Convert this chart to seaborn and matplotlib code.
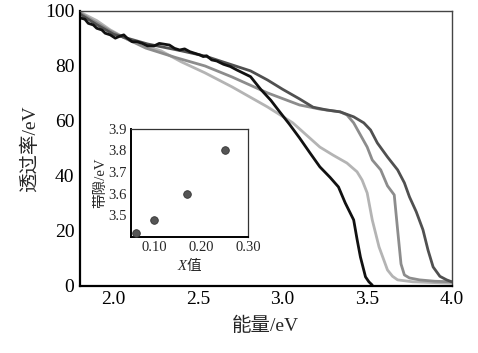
import matplotlib
matplotlib.use("Agg")
import matplotlib.pyplot as plt
import matplotlib.ticker as tkr
import pandas as pd
import seaborn as sns

sns.set_style("white")
plt.rcParams['font.family'] = ['Liberation Serif', 'Noto Sans CJK SC', 'DejaVu Sans']
plt.rcParams['mathtext.fontset'] = 'custom'
plt.rcParams['mathtext.it'] = 'Liberation Serif:italic'
plt.rcParams['mathtext.rm'] = 'Noto Sans CJK SC'

# transmission curves (energy in eV, transmittance)
black_x = [1.80, 1.83, 1.85, 1.88, 1.90, 1.93, 1.95, 1.98, 2.01, 2.04, 2.06, 2.08,
           2.11, 2.14, 2.17, 2.20, 2.24, 2.27, 2.33, 2.36, 2.39, 2.42, 2.45, 2.48,
           2.51, 2.53, 2.55, 2.58, 2.61, 2.65, 2.69, 2.73, 2.77, 2.81, 2.87, 2.93,
           2.98, 3.04, 3.10, 3.16, 3.22, 3.28, 3.33, 3.37, 3.42, 3.44, 3.46, 3.49,
           3.51, 3.53]
black_y = [97.5, 97.0, 95.5, 94.9, 93.7, 93.1, 91.9, 91.3, 90.1, 90.9, 91.3, 90.1,
           88.8, 88.8, 88.2, 87.3, 87.3, 88.2, 87.6, 86.4, 85.8, 86.2, 85.2, 84.6,
           84.0, 83.4, 83.7, 82.2, 81.8, 80.6, 79.8, 78.5, 77.3, 76.1, 71.5, 67.5,
           63.5, 58.8, 53.8, 48.5, 43.3, 39.5, 36.0, 30.2, 24.0, 17.0, 10.5, 3.3,
           1.5, 0.3]

dark_x = [1.80, 1.90, 2.00, 2.20, 2.40, 2.54, 2.67, 2.81, 2.91, 3.00, 3.10, 3.18,
          3.26, 3.34, 3.42, 3.48, 3.52, 3.56, 3.62, 3.68, 3.72, 3.75, 3.79, 3.83,
          3.86, 3.89, 3.93, 3.97, 4.00]
dark_y = [98.9, 95.0, 91.5, 88.0, 85.5, 83.6, 81.0, 78.2, 74.9, 71.5, 68.0, 65.0,
          64.0, 63.3, 61.5, 59.3, 56.7, 52.0, 46.9, 42.2, 37.5, 32.4, 27.0, 20.4,
          13.0, 6.9, 3.5, 2.2, 1.5]

mid_x = [1.80, 1.98, 2.19, 2.37, 2.54, 2.70, 2.91, 3.10, 3.22, 3.34, 3.38, 3.42,
         3.46, 3.50, 3.53, 3.58, 3.62, 3.66, 3.68, 3.70, 3.72, 3.75, 3.81, 3.90,
         4.00]
mid_y = [99.3, 92.7, 86.5, 83.0, 80.0, 76.0, 70.2, 65.8, 64.3, 63.3, 62.2, 59.3,
         54.9, 50.5, 45.8, 42.2, 36.4, 33.1, 20.4, 8.0, 4.0, 2.9, 2.2, 1.7, 1.5]

light_x = [1.80, 1.90, 1.98, 2.10, 2.28, 2.40, 2.54, 2.70, 2.91, 3.06, 3.22, 3.30,
           3.38, 3.44, 3.47, 3.50, 3.53, 3.57, 3.62, 3.65, 3.68, 3.77, 3.90, 4.00]
light_y = [99.6, 96.5, 93.1, 89.1, 85.5, 81.5, 77.5, 72.4, 65.1, 59.3, 50.5, 47.5,
           44.7, 41.5, 38.5, 33.8, 24.0, 14.2, 5.8, 3.5, 2.2, 1.5, 1.2, 1.0]

# inset: band gap vs X
gap_x = [0.06, 0.10, 0.17, 0.25]
gap_y = [3.42, 3.48, 3.60, 3.80]

curves = [
    (light_x, light_y, "#b4b4b4"),
    (mid_x, mid_y, "#8c8c8c"),
    (dark_x, dark_y, "#505050"),
    (black_x, black_y, "#111111"),
]

fig = plt.figure(figsize=(4.78, 3.53), dpi=100)
ax = fig.add_axes([0.167, 0.190, 0.778, 0.779])
for xs, ys, color in curves:
    df = pd.DataFrame({"E": xs, "T": ys})
    sns.lineplot(data=df, x="E", y="T", ax=ax, color=color, linewidth=2.0,
                 estimator=None, sort=False)

ax.set_xlim(1.8, 4.0)
ax.set_ylim(0, 100)
ax.set_xticks([2.0, 2.5, 3.0, 3.5, 4.0])
ax.set_yticks([0, 20, 40, 60, 80, 100])
ax.xaxis.set_major_formatter(tkr.FormatStrFormatter('%.1f'))
ax.tick_params(direction='in', length=6, width=1.3, labelsize=14, colors='black',
               top=False, right=False, pad=4)
ax.set_xlabel("能量/eV", fontsize=14, labelpad=6)
ax.set_ylabel("透过率/eV", fontsize=14, labelpad=4)
for side in ['left', 'bottom']:
    ax.spines[side].set_linewidth(1.6)
    ax.spines[side].set_color('black')
for side in ['top', 'right']:
    ax.spines[side].set_linewidth(1.0)
    ax.spines[side].set_color('#444444')

ins = fig.add_axes([0.274, 0.329, 0.245, 0.306])
gdf = pd.DataFrame({"X": gap_x, "Eg": gap_y})
sns.scatterplot(data=gdf, x="X", y="Eg", ax=ins, color="#555555", s=30,
                edgecolor="#333333", linewidth=0.6, zorder=3, clip_on=False)
ins.set_xlim(0.05, 0.30)
ins.set_ylim(3.4, 3.9)
ins.xaxis.set_major_locator(tkr.FixedLocator([0.10, 0.20, 0.30]))
ins.xaxis.set_minor_locator(tkr.FixedLocator([0.15, 0.25]))
ins.xaxis.set_major_formatter(tkr.FormatStrFormatter('%.2f'))
ins.set_yticks([3.5, 3.6, 3.7, 3.8, 3.9])
ins.yaxis.set_major_formatter(tkr.FormatStrFormatter('%.1f'))
ins.tick_params(which='both', direction='in', length=4, width=1.0, labelsize=10.5,
                top=False, right=False, pad=3)
ins.set_xlabel("$\\mathit{X}\\mathrm{值}$", fontsize=10.5, labelpad=1)
ins.set_ylabel("带隙/eV", fontsize=10.5, labelpad=1)
for side in ['left', 'bottom']:
    ins.spines[side].set_linewidth(1.4)
    ins.spines[side].set_color('black')
for side in ['top', 'right']:
    ins.spines[side].set_linewidth(0.9)
    ins.spines[side].set_color('#333333')

fig.savefig("out.png", dpi=100)
